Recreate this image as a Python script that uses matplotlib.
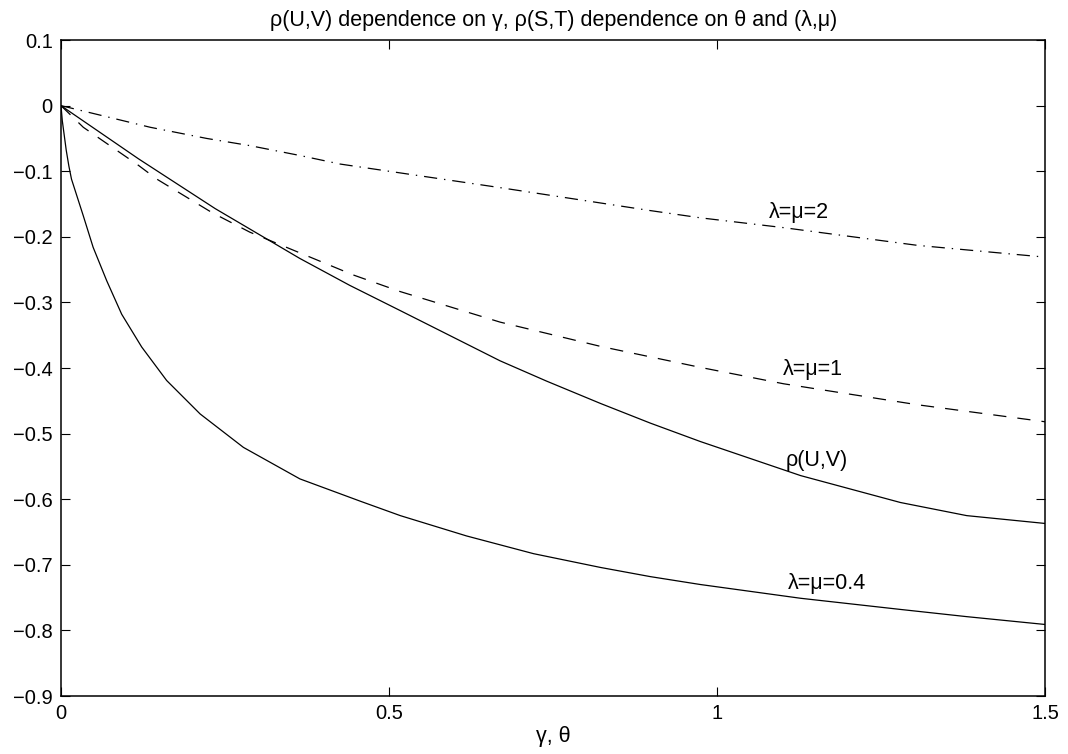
import matplotlib
matplotlib.use("Agg")
import matplotlib.pyplot as plt

plt.rcParams['font.family'] = ['Liberation Sans', 'DejaVu Sans']
plt.rcParams['lines.scale_dashes'] = False

# rho(U,V) (solid, upper)
x_uv = [0, 0.118, 0.235, 0.364, 0.44, 0.517, 0.669, 0.74, 0.822, 0.898, 0.974, 1.127, 1.279, 1.38, 1.5]
y_uv = [0, -0.081, -0.157, -0.233, -0.274, -0.3125, -0.389, -0.420, -0.454, -0.484, -0.512, -0.564, -0.605, -0.625, -0.637]

# lambda=mu=1 (dashed)
x_l1 = [0, 0.034, 0.118, 0.146, 0.23, 0.288, 0.445, 0.517, 0.669, 0.822, 0.974, 1.101, 1.305, 1.5]
y_l1 = [0, -0.033, -0.091, -0.112, -0.163, -0.193, -0.258, -0.2835, -0.330, -0.367, -0.399, -0.424, -0.456, -0.482]

# lambda=mu=2 (dash-dot)
x_l2 = [0, 0.136, 0.222, 0.288, 0.364, 0.425, 0.669, 0.898, 0.974, 1.101, 1.305, 1.5]
y_l2 = [0, -0.033, -0.050, -0.061, -0.076, -0.089, -0.125, -0.160, -0.171, -0.186, -0.213, -0.231]

# lambda=mu=0.4 (solid, lower)
x_l04 = [0, 0.002, 0.008, 0.012, 0.016, 0.034, 0.049, 0.0697, 0.0925, 0.123, 0.161, 0.212, 0.278, 0.364,
         0.456, 0.517, 0.618, 0.72, 0.822, 0.898, 0.974, 1.127, 1.279, 1.38, 1.5]
y_l04 = [0, -0.023, -0.068, -0.092, -0.112, -0.168, -0.216, -0.267, -0.318, -0.368, -0.419, -0.470, -0.521, -0.569,
         -0.603, -0.625, -0.656, -0.683, -0.704, -0.718, -0.730, -0.751, -0.768, -0.779, -0.791]

# curve labels
lab_text = ['λ=μ=2', 'λ=μ=1', 'ρ(U,V)', 'λ=μ=0.4']
lab_x = [1.125, 1.145, 1.152, 1.167]
lab_y = [-0.163, -0.402, -0.541, -0.728]

x_ticks = [0, 0.5, 1, 1.5]
y_ticks = [0.1, 0, -0.1, -0.2, -0.3, -0.4, -0.5, -0.6, -0.7, -0.8, -0.9]

fig = plt.figure(figsize=(10.68, 7.54), dpi=100)
ax = fig.add_axes([0.0571, 0.0769, 0.9218, 0.8700])

lw = 0.9
ax.plot(x_uv, y_uv, color='black', lw=lw)
ax.plot(x_l1, y_l1, color='black', lw=lw, linestyle=(0, (9.5, 8)))
ax.plot(x_l2, y_l2, color='black', lw=lw, linestyle=(0, (9.5, 5, 1, 5)))
ax.plot(x_l04, y_l04, color='black', lw=lw)

for t, xx, yy in zip(lab_text, lab_x, lab_y):
    ax.text(xx, yy, t, ha='center', va='center', fontsize=15.5)

ax.set_xlim(0, 1.5)
ax.set_ylim(-0.9, 0.1)
ax.set_xticks(x_ticks)
ax.set_xticklabels(['0', '0.5', '1', '1.5'])
ax.set_yticks(y_ticks)
ax.set_yticklabels(['0.1', '0', '\u22120.1', '\u22120.2', '\u22120.3', '\u22120.4', '\u22120.5',
                    '\u22120.6', '\u22120.7', '\u22120.8', '\u22120.9'])
ax.tick_params(direction='in', length=6.5, width=0.8, top=True, right=True, labelsize=14.5)
ax.tick_params(axis='x', pad=6)
ax.tick_params(axis='y', pad=6)
for s in ax.spines.values():
    s.set_linewidth(1.1)

ax.set_title('ρ(U,V) dependence on γ, ρ(S,T) dependence on θ and (λ,μ)', fontsize=15.5, pad=10)
ax.set_xlabel('γ, θ', fontsize=15.5, labelpad=2)

fig.savefig('out.png', dpi=100)
